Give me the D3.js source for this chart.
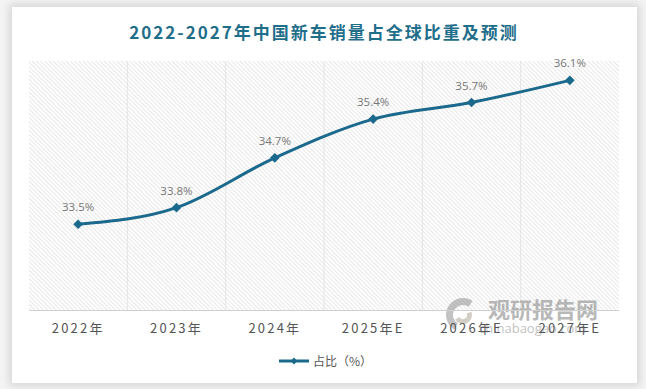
<!DOCTYPE html>
<html>
<head>
<meta charset="utf-8">
<script src="https://cdn.jsdelivr.net/npm/d3@7"></script>
<style>
  html, body { margin: 0; padding: 0; background: #f4f4f4; }
  #card {
    position: absolute; left: 12px; top: 7px; width: 625px; height: 376px;
    background: #fff; box-shadow: 0 0 8px 3px rgba(0,0,0,0.12);
  }
  svg { position: absolute; left: 0; top: 0; font-family: "Noto Sans CJK SC", "Open Sans", sans-serif; }
</style>
</head>
<body>
<div id="card"></div>
<svg id="chart" width="646" height="389"></svg>
<script>
const years = ["2022年", "2023年", "2024年", "2025年E", "2026年E", "2027年E"];
const shares = [33.5, 33.8, 34.7, 35.4, 35.7, 36.1];
const labels = ["33.5%", "33.8%", "34.7%", "35.4%", "35.7%", "36.1%"];

const svg = d3.select("#chart");
const plotL = 29, plotR = 619, plotT = 61, plotB = 310;
const lineColor = "#1b6a8d";

// hatch pattern
const defs = svg.append("defs");
const pat = defs.append("pattern")
    .attr("id", "hatch")
    .attr("patternUnits", "userSpaceOnUse")
    .attr("width", 3).attr("height", 3)
    .attr("patternTransform", "rotate(-45)");
pat.append("rect").attr("width", 3).attr("height", 3).attr("fill", "#fff");
pat.append("line").attr("x1", 0).attr("y1", 0).attr("x2", 0).attr("y2", 3)
    .attr("stroke", "#d0d0d0").attr("stroke-width", 1);

svg.append("text")
    .attr("x", 324).attr("y", 39)
    .attr("text-anchor", "middle")
    .attr("font-size", 17).attr("font-weight", "bold")
    .attr("letter-spacing", 2)
    .attr("fill", "#1f6e8a")
    .text("2022-2027年中国新车销量占全球比重及预测");

const x = d3.scaleBand().domain(years).range([plotL, plotR]);
const y = d3.scaleLinear().domain([31.95, 36.45]).range([plotB, plotT]);

svg.append("rect")
    .attr("x", plotL).attr("y", plotT)
    .attr("width", plotR - plotL).attr("height", plotB - plotT)
    .attr("fill", "url(#hatch)");

// vertical grid lines at band edges
svg.append("g").selectAll("line")
    .data(years.slice(1))
    .join("line")
    .attr("x1", d => x(d)).attr("x2", d => x(d))
    .attr("y1", plotT).attr("y2", plotB)
    .attr("stroke", "#e4e4e4").attr("stroke-width", 1);

// watermark
const wm = svg.append("g").attr("opacity", 0.6);
const arc = d3.arc();
wm.append("path")
    .attr("d", arc({innerRadius: 10, outerRadius: 17, startAngle: -2.6, endAngle: 0.6}))
    .attr("transform", "translate(463,315)").attr("fill", "#9a9a9a");
wm.append("path")
    .attr("d", arc({innerRadius: 4, outerRadius: 9, startAngle: 1.2, endAngle: 4.2}))
    .attr("transform", "translate(463,315)").attr("fill", "#b5ae9f");
wm.append("text").attr("x", 488).attr("y", 318)
    .attr("font-size", 22).attr("font-weight", "bold").attr("fill", "#8a8a8a")
    .text("观研报告网");
wm.append("text").attr("x", 479).attr("y", 333)
    .attr("font-size", 13).attr("fill", "#9a9a9a")
    .attr("font-family", "'Open Sans', sans-serif")
    .text("chinabaogao.com");

const xAxis = svg.append("g")
    .attr("transform", `translate(0,${plotB})`)
    .call(d3.axisBottom(x).tickSize(0).tickPadding(14));
xAxis.select(".domain").attr("stroke", "#d0d0d0");
xAxis.selectAll("text")
    .attr("font-size", 13).attr("fill", "#555")
    .attr("letter-spacing", 2.2)
    .attr("font-family", "'Noto Sans CJK SC', sans-serif");

const line = d3.line()
    .x((d, i) => x(years[i]) + x.bandwidth() / 2)
    .y(d => y(d))
    .curve(d3.curveMonotoneX);

svg.append("path")
    .datum(shares)
    .attr("d", line)
    .attr("fill", "none")
    .attr("stroke", lineColor)
    .attr("stroke-width", 3);

const diamond = d3.symbol().type(d3.symbolDiamond2).size(60);

svg.append("g").selectAll("path")
    .data(shares)
    .join("path")
    .attr("d", diamond)
    .attr("transform", (d, i) => `translate(${x(years[i]) + x.bandwidth() / 2},${y(d)})`)
    .attr("fill", lineColor);

svg.append("g").selectAll("text")
    .data(shares)
    .join("text")
    .attr("x", (d, i) => x(years[i]) + x.bandwidth() / 2)
    .attr("y", d => y(d) - 13)
    .attr("text-anchor", "middle")
    .attr("font-size", 11.5).attr("fill", "#777")
    .attr("font-family", "'Open Sans', sans-serif")
    .text((d, i) => labels[i]);

// legend
const lg = svg.append("g").attr("transform", "translate(279,361)");
lg.append("line").attr("x1", 0).attr("x2", 30).attr("y1", 0).attr("y2", 0)
    .attr("stroke", lineColor).attr("stroke-width", 3);
lg.append("path").attr("d", d3.symbol().type(d3.symbolDiamond2).size(30))
    .attr("transform", "translate(15,0)").attr("fill", lineColor);
lg.append("text").attr("x", 34).attr("y", 4.5)
    .attr("font-size", 12).attr("fill", "#555")
    .text("占比（%）");
</script>
</body>
</html>
